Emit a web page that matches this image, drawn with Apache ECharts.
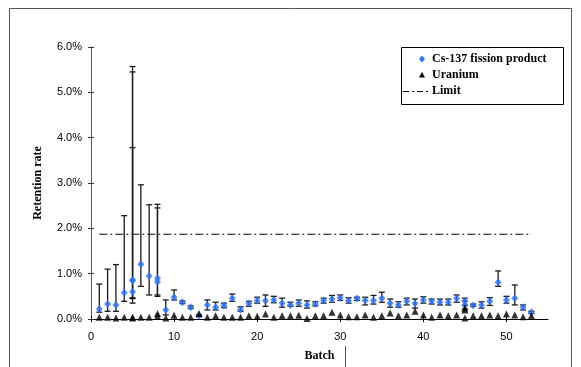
<!DOCTYPE html>
<html>
<head>
<meta charset="utf-8">
<script src="https://cdn.jsdelivr.net/npm/echarts@6/dist/echarts.min.js"></script>
<style>
  html, body { margin: 0; padding: 0; background: #fff; }
  #chart { width: 581px; height: 367px; }
</style>
</head>
<body>
<div id="chart"></div>
<script>
// Cs-137 retention per batch (percent), with lower / upper error limits
const csBatch = [1, 2, 3, 4, 5, 5, 5, 6, 7, 8, 8, 9, 10, 11, 12, 13, 14, 15, 16, 17, 18, 19, 20, 21, 22, 23, 24, 25, 26, 27, 28, 29, 30, 31, 32, 33, 34, 35, 36, 37, 38, 39, 40, 41, 42, 43, 44, 45, 45, 46, 47, 48, 49, 50, 51, 52, 53];
const csValue = [0.22, 0.33, 0.31, 0.58, 0.86, 0.85, 0.60, 1.21, 0.95, 0.90, 0.82, 0.20, 0.48, 0.37, 0.26, 0.07, 0.31, 0.26, 0.30, 0.46, 0.21, 0.34, 0.41, 0.40, 0.42, 0.35, 0.31, 0.35, 0.31, 0.33, 0.41, 0.44, 0.47, 0.41, 0.45, 0.41, 0.41, 0.46, 0.35, 0.31, 0.39, 0.34, 0.42, 0.39, 0.37, 0.37, 0.45, 0.39, 0.31, 0.30, 0.31, 0.39, 0.81, 0.42, 0.46, 0.26, 0.15];
const csLow   = [0.15, 0.17, 0.17, 0.39, 0.47, 0.45, 0.35, 0.72, 0.53, 0.53, 0.50, 0.09, 0.42, 0.34, 0.23, 0.05, 0.20, 0.20, 0.25, 0.39, 0.17, 0.28, 0.35, 0.28, 0.36, 0.26, 0.28, 0.28, 0.24, 0.29, 0.35, 0.37, 0.41, 0.35, 0.41, 0.31, 0.33, 0.37, 0.26, 0.26, 0.31, 0.24, 0.35, 0.33, 0.31, 0.31, 0.37, 0.30, 0.22, 0.28, 0.24, 0.30, 0.72, 0.35, 0.31, 0.20, 0.12];
const csHigh  = [0.77, 1.10, 1.20, 2.28, 5.57, 5.45, 3.78, 2.96, 2.52, 2.53, 2.45, 0.42, 0.64, 0.40, 0.29, 0.09, 0.42, 0.37, 0.35, 0.55, 0.27, 0.39, 0.48, 0.53, 0.50, 0.46, 0.37, 0.42, 0.40, 0.38, 0.46, 0.52, 0.53, 0.47, 0.48, 0.48, 0.52, 0.59, 0.44, 0.38, 0.46, 0.44, 0.49, 0.44, 0.44, 0.44, 0.53, 0.46, 0.40, 0.33, 0.38, 0.47, 1.06, 0.50, 0.75, 0.31, 0.17];

// Uranium retention per batch (percent)
const uBatch = [1, 2, 3, 4, 5, 5, 6, 7, 8, 8, 9, 10, 11, 12, 13, 14, 15, 16, 17, 18, 19, 20, 21, 22, 23, 24, 25, 26, 27, 28, 29, 30, 31, 32, 33, 34, 35, 36, 37, 38, 39, 40, 41, 42, 43, 44, 45, 45, 45, 46, 47, 48, 49, 50, 51, 52, 53];
const uValue = [0.04, 0.04, 0.02, 0.04, 0.04, 0.02, 0.04, 0.04, 0.12, 0.06, 0.02, 0.08, 0.04, 0.04, 0.12, 0.04, 0.07, 0.04, 0.04, 0.04, 0.07, 0.06, 0.11, 0.04, 0.07, 0.07, 0.08, 0.01, 0.07, 0.07, 0.15, 0.09, 0.05, 0.05, 0.09, 0.04, 0.07, 0.13, 0.07, 0.09, 0.17, 0.09, 0.04, 0.09, 0.07, 0.09, 0.24, 0.20, 0.02, 0.07, 0.07, 0.09, 0.07, 0.11, 0.09, 0.05, 0.07];

// Retention limit
const limitBatch = [1, 53];
const limitValue = 1.87;

// Axis ticks
const xTicks = [0, 10, 20, 30, 40, 50];
const yTicks = [0, 1, 2, 3, 4, 5, 6];

// Legend entries
const legendNames = ['Cs-137 fission product', 'Uranium', 'Limit'];

const serif = '"Liberation Serif", "Times New Roman", serif';
const sans = '"Liberation Sans", Arial, sans-serif';
const csColor = '#2f73f2';
const limitDash = [8, 3, 2, 3];

const csPoints = csBatch.map((b, i) => [b, csValue[i]]);
const csBars = csBatch.map((b, i) => [b, csValue[i], csLow[i], csHigh[i]]);
const uPoints = uBatch.map((b, i) => [b, uValue[i]]);
const limitPoints = limitBatch.map(b => [b, limitValue]);

const chart = echarts.init(document.getElementById('chart'), null, { renderer: 'canvas' });

const xBase = { type: 'value', min: 0, max: 55, interval: 10, gridIndex: 0, splitLine: { show: false } };
const yBase = { type: 'value', min: 0, max: 6, interval: 1, gridIndex: 0, splitLine: { show: false } };

// Boxed legend in the upper right corner
const lgX = 401.5, lgY = 47.5, lgW = 162, lgH = 57;
const rowY = [59, 75, 91];
const iconX = 422, textX = 432;
const legendFont = 'bold 12px ' + serif;
const legendGraphics = [
  { type: 'rect', shape: { x: lgX, y: lgY, width: lgW, height: lgH }, style: { fill: '#fff', stroke: '#000', lineWidth: 1 } },
  { type: 'polygon', shape: { points: [[iconX, rowY[0] - 3.5], [iconX + 3, rowY[0]], [iconX, rowY[0] + 3.5], [iconX - 3, rowY[0]]] }, style: { fill: csColor } },
  { type: 'polygon', shape: { points: [[iconX, rowY[1] - 3], [iconX + 3, rowY[1] + 2.5], [iconX - 3, rowY[1] + 2.5]] }, style: { fill: '#000' } },
  { type: 'line', shape: { x1: 403, y1: rowY[2] + 0.5, x2: 429, y2: rowY[2] + 0.5 }, style: { stroke: '#000', lineWidth: 1.2, lineDash: [6, 3, 2, 3] } }
].concat(legendNames.map((n, i) => ({
  type: 'text',
  style: { text: n, x: textX, y: rowY[i], font: legendFont, fill: '#000', verticalAlign: 'middle', align: 'left' }
})));

chart.setOption({
  animation: false,
  backgroundColor: '#fff',
  grid: { left: 91, right: 33, top: 47, bottom: 46 },
  xAxis: [
    Object.assign({}, xBase, {
      position: 'bottom',
      name: 'Batch',
      nameLocation: 'middle',
      nameGap: 31,
      nameTextStyle: { fontFamily: serif, fontWeight: 'bold', fontSize: 12, color: '#000' },
      axisLine: { show: true, lineStyle: { color: '#000', width: 1 } },
      axisTick: { show: true, inside: false, length: 3, customValues: xTicks, lineStyle: { color: '#000' } },
      axisLabel: { customValues: xTicks, margin: 12, fontFamily: sans, fontSize: 11, color: '#000' }
    }),
    Object.assign({}, xBase, {
      position: 'bottom',
      axisLine: { show: false },
      axisTick: { show: true, inside: true, length: 3, customValues: xTicks, lineStyle: { color: '#000' } },
      axisLabel: { show: false }
    })
  ],
  yAxis: [
    Object.assign({}, yBase, {
      position: 'left',
      name: 'Retention rate',
      nameLocation: 'middle',
      nameRotate: 90,
      nameGap: 47,
      nameTextStyle: { fontFamily: serif, fontWeight: 'bold', fontSize: 12, color: '#000' },
      axisLine: { show: true, lineStyle: { color: '#555', width: 1 } },
      axisTick: { show: true, inside: false, length: 3, customValues: yTicks, lineStyle: { color: '#333' } },
      axisLabel: {
        customValues: yTicks, margin: 9, fontFamily: sans, fontSize: 11, color: '#000',
        formatter: v => v.toFixed(1) + '%'
      }
    }),
    Object.assign({}, yBase, {
      position: 'left',
      axisLine: { show: false },
      axisTick: { show: true, inside: true, length: 3, customValues: yTicks, lineStyle: { color: '#333' } },
      axisLabel: { show: false }
    })
  ],
  graphic: [
    {
      type: 'rect', silent: true, z: -10,
      shape: { x: 9.5, y: 8.5, width: 562, height: 400 },
      style: { fill: 'none', stroke: '#555', lineWidth: 1 }
    },
    {
      type: 'line', silent: true,
      shape: { x1: 345.5, y1: 346, x2: 345.5, y2: 367 },
      style: { stroke: '#555', lineWidth: 1 }
    },
    { type: 'group', silent: true, z: 100, children: legendGraphics }
  ],
  series: [
    {
      name: legendNames[2],
      type: 'line',
      data: limitPoints,
      showSymbol: false,
      symbol: 'none',
      color: '#000',
      lineStyle: { color: '#000', width: 1, type: limitDash },
      z: 2
    },
    {
      name: 'Cs-137 error',
      type: 'custom',
      data: csBars,
      encode: { x: 0, y: 1 },
      z: 3,
      renderItem: function (params, api) {
        const b = api.value(0);
        const top = api.coord([b, api.value(3)]);
        const bot = api.coord([b, api.value(2)]);
        const w = 3;
        const st = { stroke: '#1a1a1a', lineWidth: 1.3 };
        return {
          type: 'group',
          children: [
            { type: 'line', shape: { x1: top[0], y1: top[1], x2: bot[0], y2: bot[1] }, style: st },
            { type: 'line', shape: { x1: top[0] - w, y1: top[1], x2: top[0] + w, y2: top[1] }, style: st },
            { type: 'line', shape: { x1: bot[0] - w, y1: bot[1], x2: bot[0] + w, y2: bot[1] }, style: st }
          ]
        };
      }
    },
    {
      name: legendNames[0],
      type: 'scatter',
      data: csPoints,
      symbol: 'diamond',
      symbolSize: [7, 8],
      itemStyle: { color: csColor },
      z: 4
    },
    {
      name: legendNames[1],
      type: 'scatter',
      data: uPoints,
      symbol: 'triangle',
      symbolSize: [7, 7],
      itemStyle: { color: '#000' },
      z: 4
    }
  ]
});
</script>
</body>
</html>
